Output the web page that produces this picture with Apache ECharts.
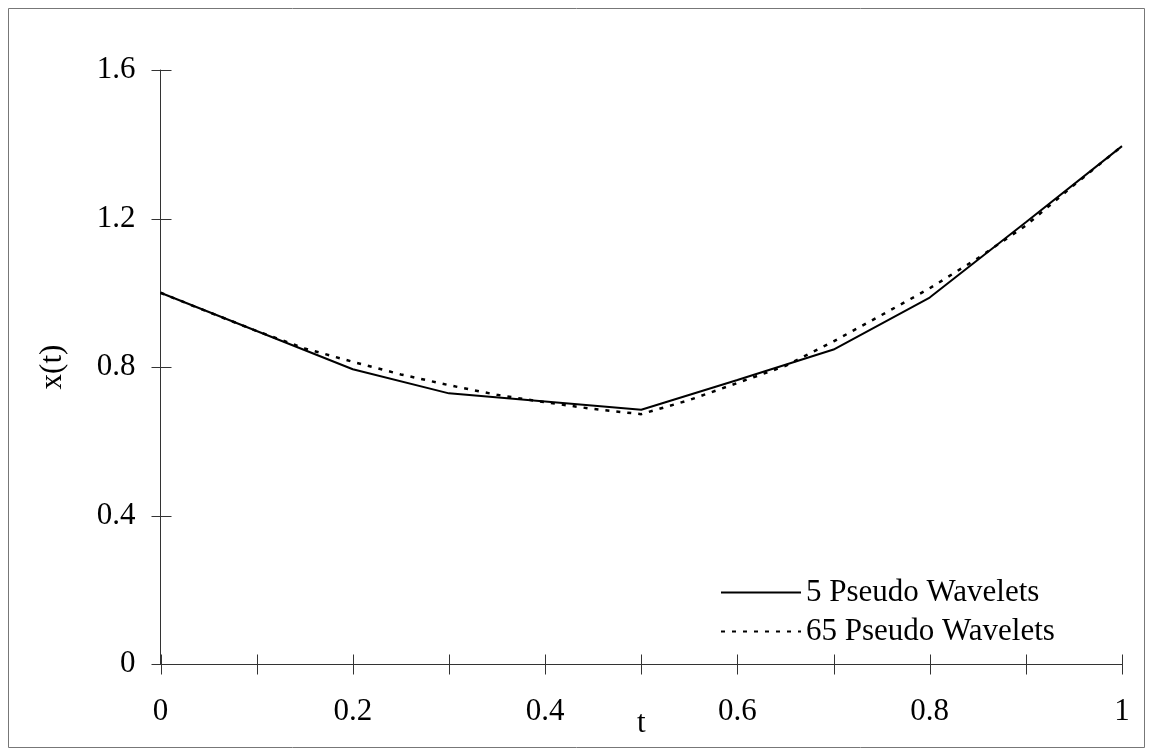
<!DOCTYPE html>
<html>
<head>
<meta charset="utf-8">
<script src="https://cdn.jsdelivr.net/npm/echarts@6/dist/echarts.min.js"></script>
<style>
html,body{margin:0;padding:0;background:#fff;}
#chart{width:1153px;height:755px;}
</style>
</head>
<body>
<div id="chart"></div>
<script>
// ---- data ----
var tSolid = [0, 0.1, 0.2, 0.3, 0.4, 0.5, 0.6, 0.7, 0.8, 0.9, 1.0];
var xSolid = [1.0, 0.897, 0.794, 0.729, 0.707, 0.685, 0.765, 0.847, 0.987, 1.19, 1.395];
var tDotted = [0, 0.05, 0.1, 0.15, 0.2, 0.25, 0.3, 0.35, 0.4, 0.45, 0.5, 0.55, 0.6, 0.65, 0.7, 0.75, 0.8, 0.85, 0.9, 0.95, 1.0];
var xDotted = [1.0, 0.948, 0.897, 0.850, 0.814, 0.780, 0.751, 0.725, 0.705, 0.687, 0.673, 0.711, 0.757, 0.803, 0.869, 0.940, 1.012, 1.093, 1.181, 1.290, 1.395];
var xTickValues = [0, 0.1, 0.2, 0.3, 0.4, 0.5, 0.6, 0.7, 0.8, 0.9, 1];
var yTickValues = [0, 0.4, 0.8, 1.2, 1.6];
var xTickLabels = ['0', '0.2', '0.4', '0.6', '0.8', '1'];
var yTickLabels = ['0', '0.4', '0.8', '1.2', '1.6'];
var seriesNames = ['5 Pseudo Wavelets', '65 Pseudo Wavelets'];

function pairs(a, b) { return a.map(function (v, i) { return [v, b[i]]; }); }

var FONT = 'Liberation Serif';
var FS = 31;
var AXC = '#333';
var TICK = 10;

function xLabel(v) {
  var k = Math.round(v * 10);
  if (k % 2 !== 0) return '';
  return xTickLabels[k / 2];
}
function yLabel(v) {
  var k = Math.round(v / 0.4);
  return yTickLabels[k];
}

// crossing tick marks, placed through the chart's own scales
function crossTickSeries(vals, dir) {
  return {
    type: 'custom', silent: true, clip: false, z: 5,
    coordinateSystem: 'cartesian2d',
    encode: { x: 0, y: 1 },
    data: vals.map(function (v) { return dir === 'x' ? [v, 0] : [0, v]; }),
    renderItem: function (params, api) {
      var p = api.coord([api.value(0), api.value(1)]);
      var x = Math.round(p[0]) + 0.5, y = Math.round(p[1]) + 0.5;
      var shape = dir === 'x'
        ? { x1: x, y1: y - TICK, x2: x, y2: y + TICK }
        : { x1: x - TICK, y1: y, x2: x + TICK, y2: y };
      return { type: 'line', shape: shape, style: { stroke: AXC, lineWidth: 1, fill: null } };
    }
  };
}

var chart = echarts.init(document.getElementById('chart'), null, { renderer: 'canvas' });
chart.setOption({
  backgroundColor: '#fff',
  animation: false,
  grid: { left: 160.5, right: 31, top: 70, bottom: 91, containLabel: false, outerBoundsMode: 'none' },
  graphic: [{
    type: 'rect', silent: true,
    shape: { x: 8.5, y: 8.5, width: 1136, height: 739 },
    style: { fill: 'none', stroke: '#777', lineWidth: 1 }
  }],
  legend: {
    orient: 'vertical', left: 715, top: 572,
    itemWidth: 80, itemHeight: 14, itemGap: 8,
    itemStyle: { opacity: 0 },
    textStyle: { fontFamily: FONT, fontSize: FS, color: '#000', lineHeight: 31 },
    data: seriesNames
  },
  xAxis: {
    type: 'value', min: 0, max: 1, interval: 0.1,
    name: 't', nameLocation: 'middle', nameGap: 44, nameMoveOverlap: false,
    nameTextStyle: { fontFamily: FONT, fontSize: FS, color: '#000' },
    axisLine: { show: true, lineStyle: { color: AXC, width: 1 } },
    axisTick: { show: false },
    axisLabel: { formatter: xLabel, margin: 32, fontFamily: FONT, fontSize: FS, color: '#000', hideOverlap: false },
    splitLine: { show: false }
  },
  yAxis: {
    type: 'value', min: 0, max: 1.6, interval: 0.4,
    name: 'x(t)', nameLocation: 'middle', nameGap: 92, nameRotate: 90, nameMoveOverlap: false,
    nameTextStyle: { fontFamily: FONT, fontSize: FS, color: '#000' },
    axisLine: { show: true, lineStyle: { color: AXC, width: 1 } },
    axisTick: { show: false },
    axisLabel: { formatter: yLabel, margin: 25, fontFamily: FONT, fontSize: FS, color: '#000' },
    splitLine: { show: false }
  },
  series: [{
    name: seriesNames[0], type: 'line', showSymbol: false, symbol: 'none',
    data: pairs(tSolid, xSolid),
    lineStyle: { color: '#000', width: 2, type: 'solid' },
    itemStyle: { color: '#000' }
  }, {
    name: seriesNames[1], type: 'line', showSymbol: false, symbol: 'none',
    data: pairs(tDotted, xDotted),
    lineStyle: { color: '#000', width: 2.5, type: [4, 7] },
    itemStyle: { color: '#000' }
  },
  crossTickSeries(xTickValues, 'x'),
  crossTickSeries(yTickValues, 'y')]
});
</script>
</body>
</html>
